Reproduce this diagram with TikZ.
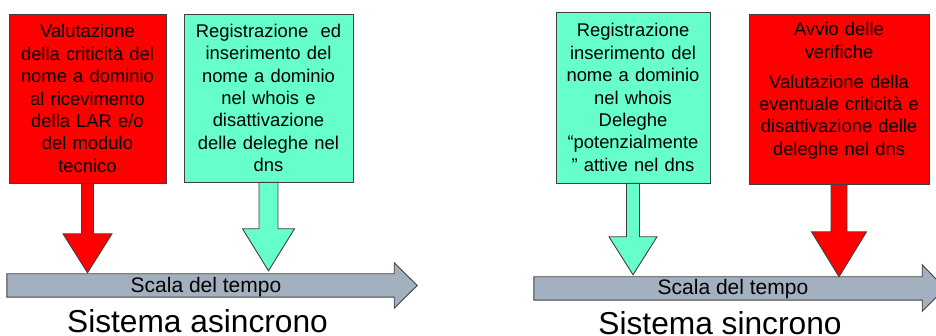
\documentclass[tikz,border=0pt]{standalone}
\usepackage{fontspec}
\setmainfont{Liberation Sans}
\usetikzlibrary{calc}
\definecolor{rosso}{HTML}{FF0000}
\definecolor{verde}{HTML}{66FFCC}
\definecolor{grigio}{HTML}{A3B0BF}
\definecolor{bordo}{HTML}{404040}
\tikzset{
  blocco/.style={draw=bordo, line width=0.9pt, inner sep=0pt, align=center,
    font=\fontsize{18.4pt}{22.4pt}\selectfont},
  corpo/.style={inner sep=0pt, minimum height=23pt},
  scala/.style={anchor=base, inner sep=0pt, font=\fontsize{21pt}{24pt}\selectfont},
  titolo/.style={anchor=base, inner sep=0pt, font=\fontsize{31.7pt}{36pt}\selectfont}
}
% arrow from a box down to the time scale
% #1 box, #2 scale, #3 half shaft, #4 half head, #5 head length, #6 gap, #7 colour
\newcommand{\frecciagiu}[7]{%
  \path (#1.south |- #2.north) ++(0,#6) coordinate (#1-p);
  \filldraw[fill=#7, draw=bordo, line width=0.9pt]
    ($(#1.south)+(-#3,0)$) -- ($(#1.south)+(#3,0)$) -- ($(#1-p)+(#3,#5)$)
    -- ($(#1-p)+(#4,#5)$) -- (#1-p) -- ($(#1-p)+(-#4,#5)$)
    -- ($(#1-p)+(-#3,#5)$) -- cycle;
}
\begin{document}
\begin{tikzpicture}[x=1pt, y=1pt]
	\useasboundingbox (0,0) rectangle (936,336);

	%Sistema asincrono
	\node[corpo, minimum width=387pt] (A1) at (200.5,50.5) {};
	\filldraw[fill=grigio, draw=bordo, line width=0.9pt] (A1.south west) -- (A1.north west)
		-- (A1.north east) -- ++(0,11) -- ($(A1.east)+(23,0)$)
		-- ($(A1.south east)+(0,-11)$) -- (A1.south east) -- cycle;
	\node[scala] (S1) at (206,43) {Scala del tempo};

	\node[blocco, fill=rosso, minimum width=157pt, minimum height=169pt, text width=150pt] (R1) at (87.5,237.5)
		{Valutazione\\della criticità del\\nome a dominio\\al ricevimento\\della LAR e/o\\del modulo\\tecnico};
	\node[blocco, fill=verde, minimum width=169pt, minimum height=168pt, text width=162pt] (V1) at (268.5,238)
		{Registrazione~ ed\\inserimento del\\nome a dominio\\nel whois e\\disattivazione\\delle deleghe nel\\dns};

	\frecciagiu{R1}{A1}{6}{24.5}{39}{1}{rosso}
	\frecciagiu{V1}{A1}{9.5}{26}{42}{3}{verde}

	\node[titolo] (T1) at (197.5,3) {Sistema asincrono};

	%Sistema sincrono
	\node[corpo, minimum width=388pt] (A2) at (728,47.5) {};
	\filldraw[fill=grigio, draw=bordo, line width=0.9pt] (A2.south west) -- (A2.north west)
		-- (A2.north east) -- ++(0,12) -- ($(A2.east)+(23,0)$)
		-- ($(A2.south east)+(0,-11)$) -- (A2.south east) -- cycle;
	\node[scala] (S2) at (733,41) {Scala del tempo};

	\node[blocco, fill=verde, minimum width=154pt, minimum height=171pt, text width=148pt] (V2) at (633,238.5)
		{Registrazione\\inserimento del\\nome a dominio\\nel whois\\Deleghe\\“potenzialmente\\” attive nel dns};
	\node[blocco, fill=rosso, minimum width=180pt, minimum height=170pt, text width=174pt, text depth=140pt] (R2) at (839,237)
		{Avvio delle\\verifiche\\[7.6pt]Valutazione della\\eventuale criticità e\\disattivazione delle\\deleghe nel dns};

	\frecciagiu{V2}{A2}{6.5}{24}{38}{2}{verde}
	\frecciagiu{R2}{A2}{8}{27.5}{45}{0}{rosso}

	\node[titolo] (T2) at (720,1.5) {Sistema sincrono};
\end{tikzpicture}
\end{document}
